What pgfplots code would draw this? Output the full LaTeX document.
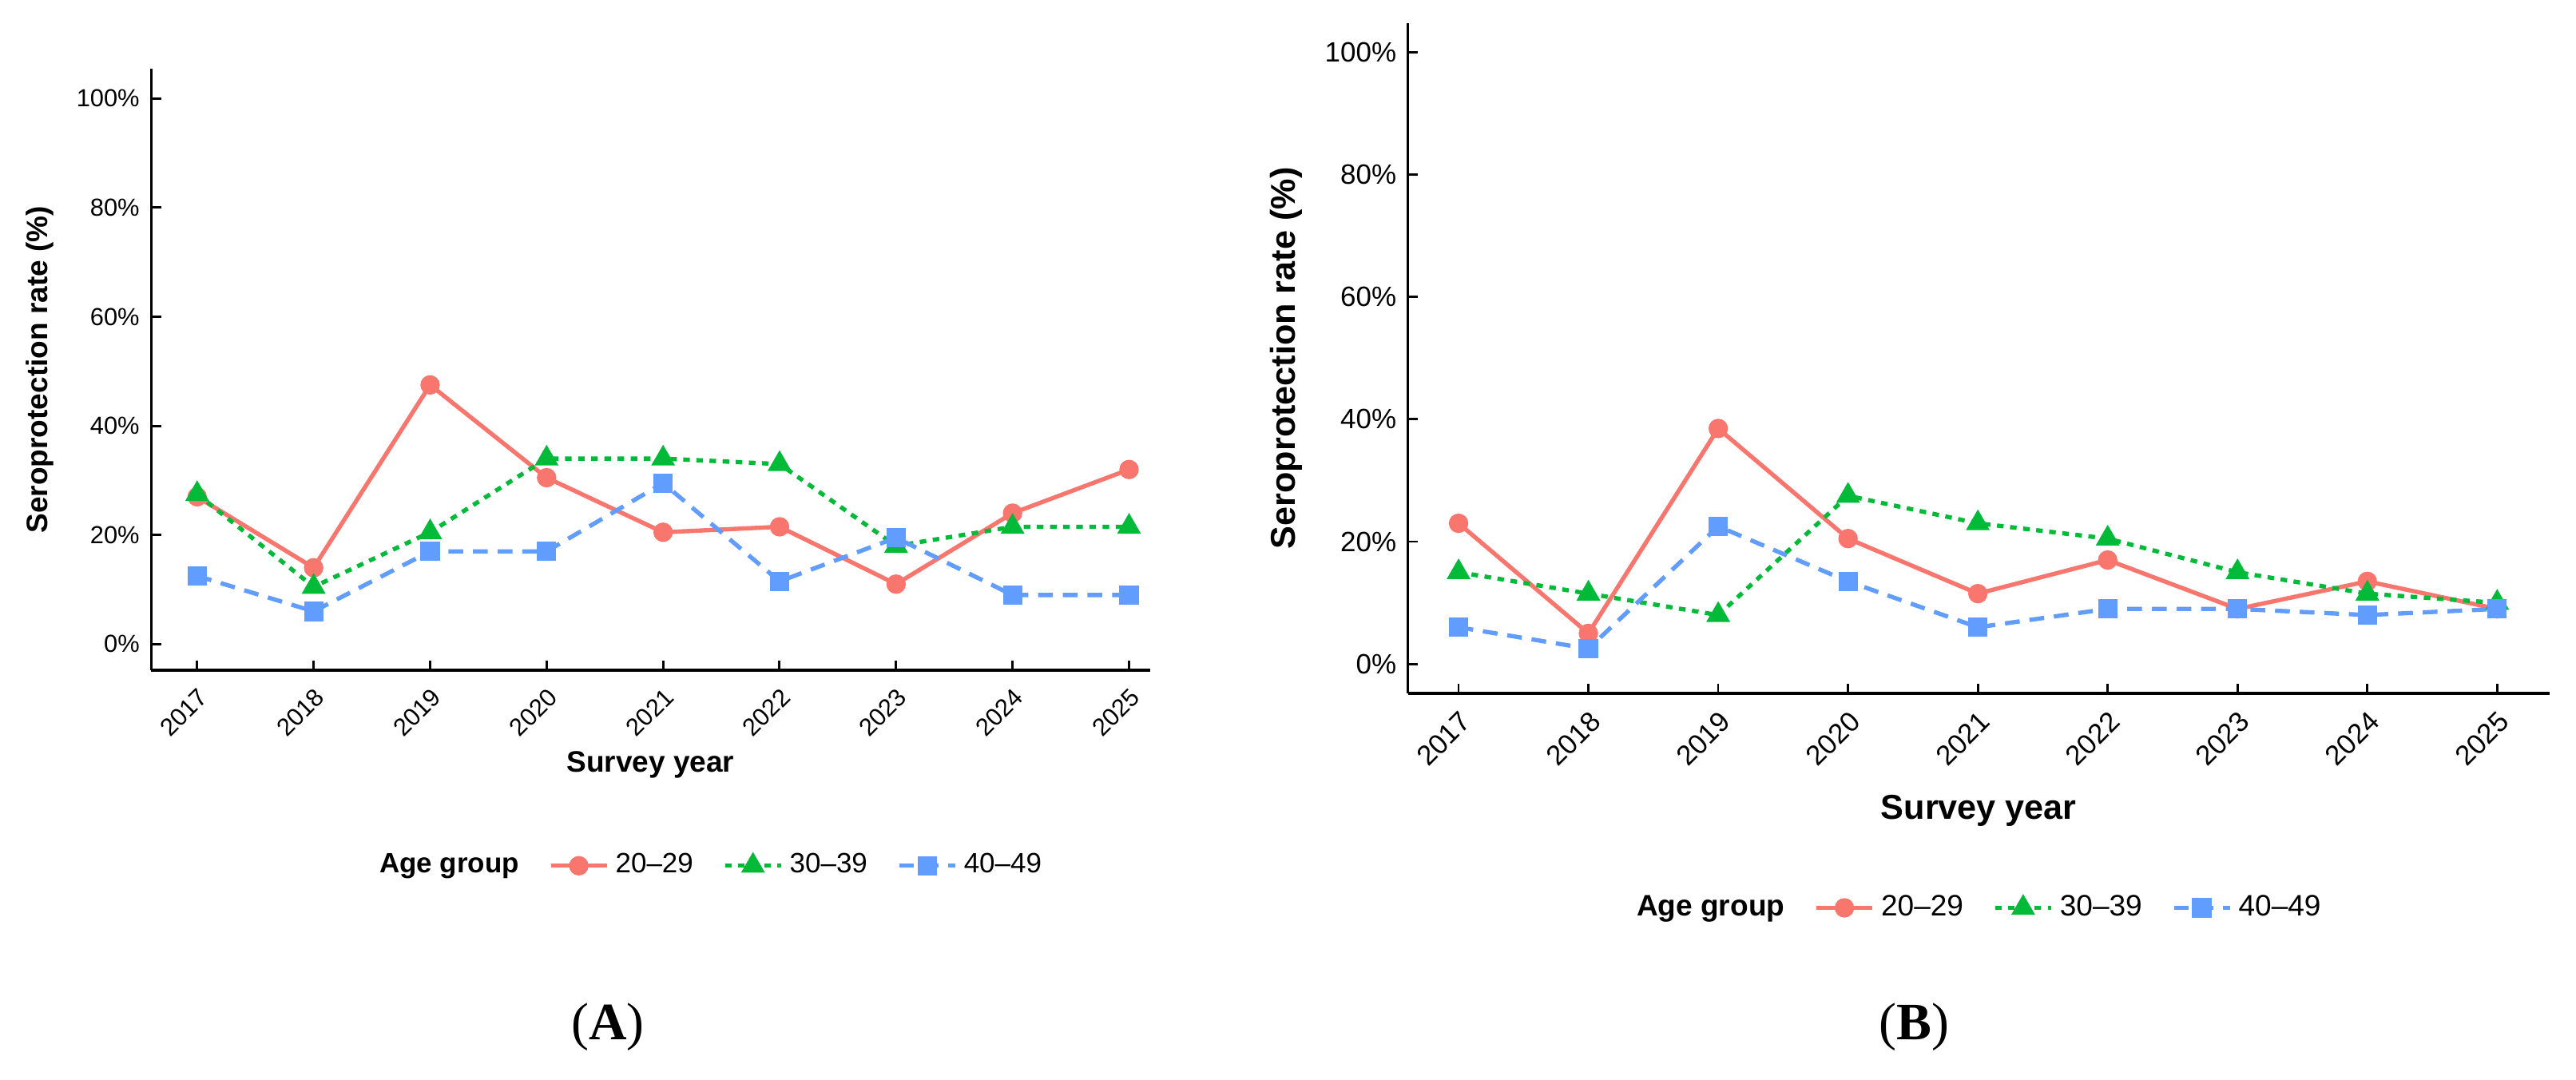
\documentclass[border=0pt]{standalone}
\usepackage{pgfplots}
\pgfplotsset{compat=1.18}
\usepackage{fontspec}
\setmainfont{Liberation Sans}
\newfontfamily\serifpanel{Liberation Serif}
\definecolor{cr}{HTML}{F8766D}
\definecolor{cg}{HTML}{00BA38}
\definecolor{cb}{HTML}{619CFF}
\pgfplotsset{
  myax/.style={
    scale only axis, anchor=south west,
    axis lines*=left, axis line style={line width=0.8pt},
    tick style={black, line width=0.7pt}, major tick length=3pt,
    tick pos=lower,
    xtick={2017,...,2025}, xticklabel style={rotate=45, anchor=north east, font=\fontsize{7.5}{8}\selectfont},
    x tick label style={/pgf/number format/1000 sep={}},
    ytick={0,20,40,60,80,100}, yticklabel={\pgfmathprintnumber{\tick}\%},
    yticklabel style={font=\fontsize{7.5}{8}\selectfont},
    /pgf/number format/assume math mode=true,
    xlabel={\textbf{Survey year}}, ylabel={\textbf{Seroprotection rate (\%)}},
    label style={font=\fontsize{9}{10}\selectfont},
    legend columns=-1,
    legend style={draw=none, font=\fontsize{8.5}{9}\selectfont, /tikz/every even column/.append style={column sep=7pt}},
  },
  sr/.style={color=cr, solid, line width=1.3pt, mark=*, mark size=2.3pt},
  sg/.style={color=cg, dash pattern=on 2pt off 2pt, line width=1.3pt, mark=triangle*, mark size=2.9pt, mark options={solid}},
  sb/.style={color=cb, dash pattern=on 4.5pt off 3pt, line width=1.3pt, mark=square*, mark size=2.3pt, mark options={solid}},
}
\begin{document}
\begin{tikzpicture}
\path (0,0) rectangle (784pt,328.5pt);
\begin{axis}[myax, at={(46pt,124.5pt)}, width=304pt, height=183pt,
  xmin=2016.605, xmax=2025.18, ymin=-4.8, ymax=105.4,
  xlabel style={yshift=4pt},
  legend style={at={(0.56,-0.325)}, anchor=center}]
\addlegendimage{empty legend}\addlegendentry{\textbf{Age group}}
\addplot[sr] coordinates {(2017,27)(2018,14)(2019,47.5)(2020,30.5)(2021,20.5)(2022,21.5)(2023,11)(2024,24)(2025,32)};
\addlegendentry{20--29}
\addplot[sg] coordinates {(2017,27.5)(2018,10.5)(2019,20.5)(2020,34)(2021,34)(2022,33)(2023,18)(2024,21.5)(2025,21.5)};
\addlegendentry{30--39}
\addplot[sb] coordinates {(2017,12.5)(2018,6)(2019,17)(2020,17)(2021,29.5)(2022,11.5)(2023,19.5)(2024,9)(2025,9)};
\addlegendentry{40--49}
\end{axis}
\begin{axis}[myax, at={(428.5pt,117.5pt)}, width=347.5pt, height=204pt,
  xmin=2016.61, xmax=2025.405, ymin=-4.8, ymax=104.8,
  xticklabel style={font=\fontsize{8.5}{9}\selectfont},
  yticklabel style={font=\fontsize{8.5}{9}\selectfont},
  label style={font=\fontsize{10.5}{11}\selectfont},
  legend style={at={(0.5,-0.32)}, anchor=center, font=\fontsize{9}{10}\selectfont}]
\addlegendimage{empty legend}\addlegendentry{\textbf{Age group}}
\addplot[sr] coordinates {(2017,23)(2018,5)(2019,38.5)(2020,20.5)(2021,11.5)(2022,17)(2023,9)(2024,13.5)(2025,9)};
\addlegendentry{20--29}
\addplot[sg] coordinates {(2017,15)(2018,11.5)(2019,8)(2020,27.5)(2021,23)(2022,20.5)(2023,15)(2024,11.5)(2025,10)};
\addlegendentry{30--39}
\addplot[sb] coordinates {(2017,6)(2018,2.5)(2019,22.5)(2020,13.5)(2021,6)(2022,9)(2023,9)(2024,8)(2025,9)};
\addlegendentry{40--49}
\end{axis}
\node[font=\serifpanel\fontsize{16}{18}\selectfont] at (185pt,16pt) {(\textbf{A})};
\node[font=\serifpanel\fontsize{16}{18}\selectfont] at (582.5pt,16pt) {(\textbf{B})};
\end{tikzpicture}
\end{document}
